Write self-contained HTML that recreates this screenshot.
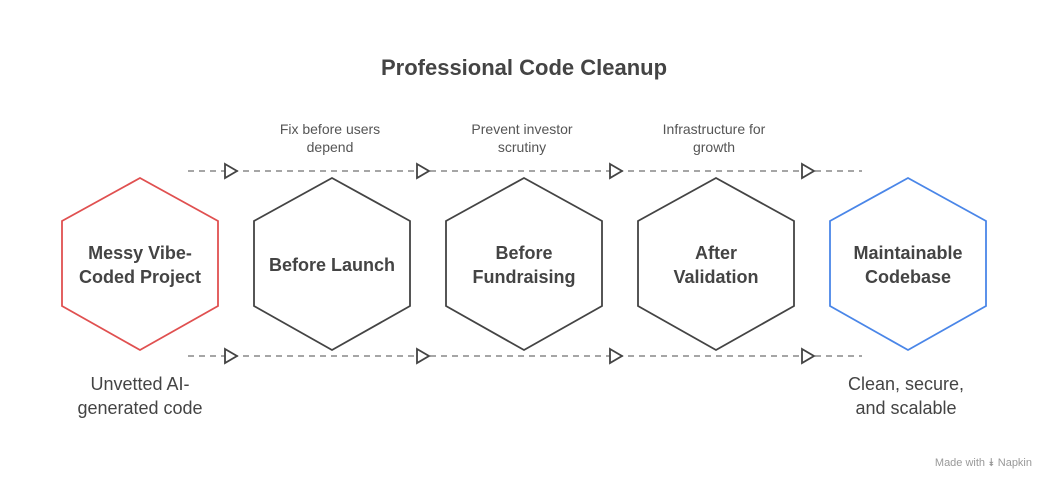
<!DOCTYPE html>
<html><head><meta charset="utf-8"><style>
body{margin:0;background:#fff;}
svg text{font-family:"Liberation Sans",sans-serif;}
</style></head><body>
<svg width="1048" height="480" viewBox="0 0 1048 480" xmlns="http://www.w3.org/2000/svg">
<rect width="1048" height="480" fill="#fff"/>
<text x="524" y="75" text-anchor="middle" font-size="22" font-weight="bold" fill="#444">Professional Code Cleanup</text>
<g stroke="#888" stroke-width="1.5" stroke-dasharray="6 5" fill="none">
<line x1="188" y1="171" x2="862" y2="171"/>
<line x1="188" y1="356" x2="862" y2="356"/>
</g>
<g fill="#fff" stroke="#444" stroke-width="1.8" stroke-linejoin="miter">
<path d="M225 164 L237 171 L225 178 Z"/><path d="M417 164 L429 171 L417 178 Z"/><path d="M610 164 L622 171 L610 178 Z"/><path d="M802 164 L814 171 L802 178 Z"/>
<path d="M225 349 L237 356 L225 363 Z"/><path d="M417 349 L429 356 L417 363 Z"/><path d="M610 349 L622 356 L610 363 Z"/><path d="M802 349 L814 356 L802 363 Z"/>
</g>
<g fill="none" stroke-width="1.8">
<path d="M140 178 L218 221 L218 306 L140 350 L62 306 L62 221 Z" stroke="#e05050"/>
<path d="M332 178 L410 221 L410 306 L332 350 L254 306 L254 221 Z" stroke="#444"/>
<path d="M524 178 L602 221 L602 306 L524 350 L446 306 L446 221 Z" stroke="#444"/>
<path d="M716 178 L794 221 L794 306 L716 350 L638 306 L638 221 Z" stroke="#444"/>
<path d="M908 178 L986 221 L986 306 L908 350 L830 306 L830 221 Z" stroke="#4a86e8"/>
</g>
<g font-size="18" font-weight="bold" fill="#444" text-anchor="middle">
<text x="140" y="259">Messy Vibe-</text><text x="140" y="283">Coded Project</text>
<text x="332" y="271">Before Launch</text>
<text x="524" y="259">Before</text><text x="524" y="283">Fundraising</text>
<text x="716" y="259">After</text><text x="716" y="283">Validation</text>
<text x="908" y="259">Maintainable</text><text x="908" y="283">Codebase</text>
</g>
<g font-size="14" fill="#555" text-anchor="middle">
<text x="330" y="134">Fix before users</text><text x="330" y="152">depend</text>
<text x="522" y="134">Prevent investor</text><text x="522" y="152">scrutiny</text>
<text x="714" y="134">Infrastructure for</text><text x="714" y="152">growth</text>
</g>
<g font-size="18" fill="#444" text-anchor="middle">
<text x="140" y="390">Unvetted AI-</text><text x="140" y="414">generated code</text>
<text x="906" y="390">Clean, secure,</text><text x="906" y="414">and scalable</text>
</g>
<text x="1032" y="466" text-anchor="end" font-size="11" fill="#999">Made with ⯯ Napkin</text>
</svg>
</body></html>
